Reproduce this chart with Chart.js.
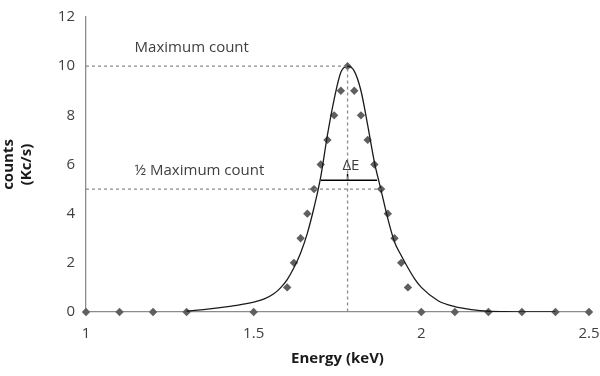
<!DOCTYPE html>
<html>
<head>
<meta charset="utf-8">
<script src="https://cdn.jsdelivr.net/npm/chart.js@4"></script>
<style>
  html, body { margin: 0; padding: 0; background: #fff; }
  #wrap { width: 600px; height: 376px; }
</style>
</head>
<body>
<div id="wrap"><canvas id="myChart" width="600" height="376"></canvas></div>
<script>
// measured points (diamonds)
var energy = [1, 1.1, 1.2, 1.3, 1.5, 1.6, 1.62, 1.64, 1.66, 1.68, 1.7, 1.72, 1.74, 1.76, 1.78,
              1.8, 1.82, 1.84, 1.86, 1.88, 1.9, 1.92, 1.94, 1.96, 2, 2.1, 2.2, 2.3, 2.4, 2.5];
var counts = [0, 0, 0, 0, 0, 1, 2, 3, 4, 5, 6, 7, 8, 9, 10,
              9, 8, 7, 6, 5, 4, 3, 2, 1, 0, 0, 0, 0, 0, 0];

// fitted curve
var fitEnergy = [1.3, 1.35, 1.4, 1.45, 1.5, 1.53, 1.56, 1.58, 1.6, 1.62, 1.64, 1.66, 1.68, 1.7, 1.72, 1.74, 1.76, 1.78,
                 1.8, 1.82, 1.84, 1.86, 1.88, 1.9, 1.92, 1.94, 1.96, 1.98, 2, 2.05, 2.1, 2.15, 2.2, 2.25, 2.3, 2.4];
var fitCounts = [0.03, 0.1, 0.18, 0.27, 0.4, 0.52, 0.74, 0.98, 1.32, 1.8, 2.4, 3.2, 4.25, 5.5, 7.2, 8.65, 9.75, 10,
                 9.8, 9.0, 7.6, 6.1, 4.95, 3.8, 2.85, 2.3, 1.8, 1.35, 1.0, 0.46, 0.22, 0.1, 0.03, 0.01, 0, 0];

// guide lines
var maxGuideX = [1, 1.78, 1.78];
var maxGuideY = [10, 10, 0];
var halfGuideX = [1, 1.88];
var halfGuideY = [5, 5];
var widthBarX = [1.7, 1.868];
var widthBarY = [5.36, 5.36];
var widthTickX = [1.78, 1.78];
var widthTickY = [5.36, 5.62];

var yTicks = [0, 2, 4, 6, 8, 10, 12];
var xTicks = [1, 1.5, 2, 2.5];

function pts(xs, ys) {
  return xs.map(function (x, i) { return { x: x, y: ys[i] }; });
}

var labels = [
  { text: 'Maximum count', x: 1.145, y: 10.75, align: 'left' },
  { text: '\u00bd Maximum count', x: 1.145, y: 5.75, align: 'left' },
  { text: '\u0394E', x: 1.79, y: 5.95, align: 'center' }
];

var textPlugin = {
  id: 'notes',
  afterDatasetsDraw: function (chart) {
    var c = chart.ctx, xs = chart.scales.x, ys = chart.scales.y;
    c.save();
    c.font = '15px "Open Sans"';
    c.fillStyle = '#404040';
    c.textBaseline = 'middle';
    labels.forEach(function (l) {
      c.textAlign = l.align;
      c.fillText(l.text, xs.getPixelForValue(l.x), ys.getPixelForValue(l.y));
    });
    c.restore();
  }
};

var ctx = document.getElementById('myChart');
var myChart = new Chart(ctx, {
  type: 'scatter',
  data: {
    datasets: [
      {
        data: pts(maxGuideX, maxGuideY),
        showLine: true, borderColor: '#8c8c8c', borderWidth: 1.3, borderDash: [3, 3],
        pointRadius: 0
      },
      {
        data: pts(halfGuideX, halfGuideY),
        showLine: true, borderColor: '#8c8c8c', borderWidth: 1.3, borderDash: [3, 3],
        pointRadius: 0
      },
      {
        data: pts(fitEnergy, fitCounts),
        showLine: true, borderColor: '#1a1a1a', borderWidth: 1.3,
        cubicInterpolationMode: 'monotone', pointRadius: 0
      },
      {
        data: pts(widthBarX, widthBarY),
        showLine: true, borderColor: '#000', borderWidth: 1.5, pointRadius: 0
      },
      {
        data: pts(widthTickX, widthTickY),
        showLine: true, borderColor: '#000', borderWidth: 1.5, pointRadius: 0
      },
      {
        data: pts(energy, counts),
        pointStyle: 'rectRot', pointRadius: 4.2, borderWidth: 0,
        backgroundColor: '#5f5f5f', borderColor: '#5f5f5f', clip: false
      }
    ]
  },
  options: {
    responsive: false,
    animation: false,
    layout: { padding: { top: 17, right: 11, left: 0, bottom: 0 } },
    plugins: { legend: { display: false }, tooltip: { enabled: false } },
    scales: {
      x: {
        type: 'linear', min: 1, max: 2.5,
        afterBuildTicks: function (s) { s.ticks = xTicks.map(function (v) { return { value: v }; }); },
        afterFit: function (s) { s.height = 64; s.paddingLeft = 0; s.paddingRight = 0; },
        grid: { display: false, drawTicks: false },
        border: { color: '#8c8c8c', width: 1.3 },
        ticks: {
          color: '#404040', font: { family: 'Open Sans', size: 15 }, padding: 13, maxRotation: 0,
          callback: function (v) { return String(v); }
        },
        title: {
          display: true, text: 'Energy (keV)', color: '#1a1a1a',
          font: { family: 'Open Sans', size: 15, weight: 'bold' }, padding: { top: 0, bottom: 8 }
        }
      },
      y: {
        type: 'linear', min: 0, max: 12,
        afterBuildTicks: function (s) { s.ticks = yTicks.map(function (v) { return { value: v }; }); },
        afterFit: function (s) { s.width = 86; },
        grid: { display: false, drawOnChartArea: false, drawTicks: true, tickLength: 5, tickColor: '#8c8c8c' },
        border: { color: '#8c8c8c', width: 1.3 },
        ticks: { color: '#404040', font: { family: 'Open Sans', size: 15 }, padding: 6 },
        title: {
          display: true, text: ['counts', '(Kc/s)'], color: '#1a1a1a',
          font: { family: 'Open Sans', size: 15, weight: 'bold' }, padding: 0
        }
      }
    }
  },
  plugins: [textPlugin]
});
</script>
</body>
</html>
